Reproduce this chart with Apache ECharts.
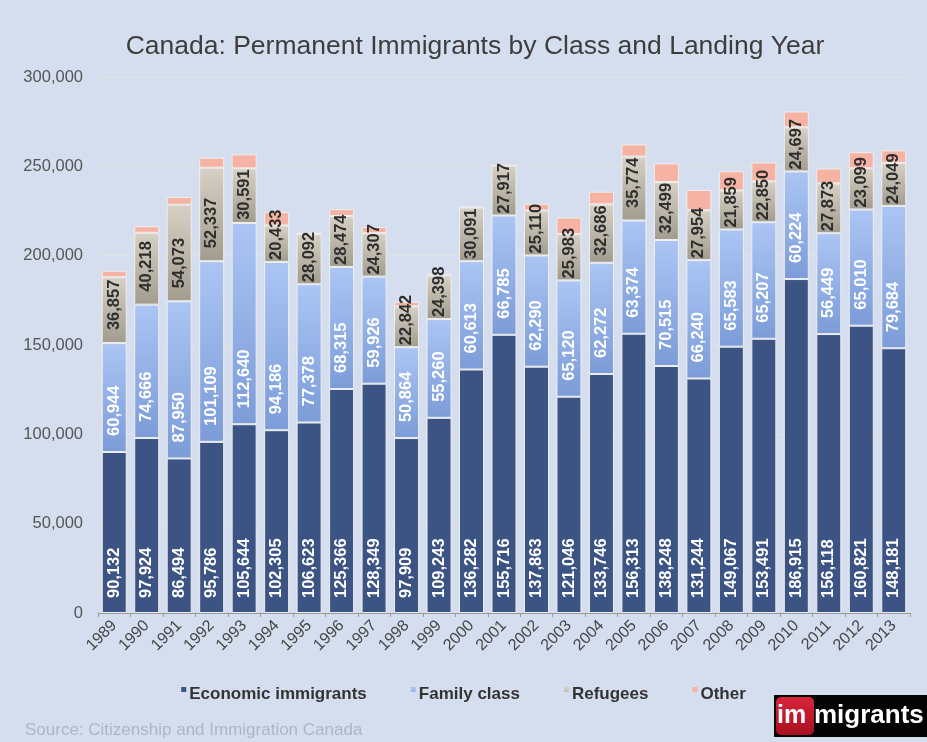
<!DOCTYPE html>
<html>
<head>
<meta charset="utf-8">
<script src="https://cdn.jsdelivr.net/npm/echarts@6/dist/echarts.min.js"></script>
<style>
  html, body { margin: 0; padding: 0; background: #d5deee; }
  #chart { width: 927px; height: 742px; }
</style>
</head>
<body>
<div id="chart"></div>
<script>
// Landing years
const years = ['1989','1990','1991','1992','1993','1994','1995','1996','1997','1998','1999','2000','2001',
  '2002','2003','2004','2005','2006','2007','2008','2009','2010','2011','2012','2013'];

// Permanent residents by class
const economic = [90132,97924,86494,95786,105644,102305,106623,125366,128349,97909,109243,136282,155716,
  137863,121046,133746,156313,138248,131244,149067,153491,186915,156118,160821,148181];
const family = [60944,74666,87950,101109,112640,94186,77378,68315,59926,50864,55260,60613,66785,
  62290,65120,62272,63374,70515,66240,65583,65207,60224,56449,65010,79684];
const refugees = [36857,40218,54073,52337,30591,20433,28092,28474,24307,22842,24398,30091,27917,
  25110,25983,32686,35774,32499,27954,21859,22850,24697,27873,23099,24049];
const other = [3623,3645,4286,5610,7828,7458,766,3914,3453,2580,1051,469,218,
  3785,9200,7119,6780,10378,11315,10737,10624,8853,8308,8957,7039];

// Value-axis tick labels
const yTicks = [0,50000,100000,150000,200000,250000,300000];

const fmt = v => Number(v).toLocaleString('en-US');

// Chart frame
const W = 927, H = 742;
const GRID = { left: 98, right: 17, top: 77, bottom: 129 };
const Y_MAX = 300000;
const pxPerUnit = (H - GRID.top - GRID.bottom) / Y_MAX;

const LABEL_FONT = 'bold 16.5px "Liberation Sans"';
const measureCtx = document.createElement('canvas').getContext('2d');
measureCtx.font = LABEL_FONT;
const textLen = s => measureCtx.measureText(s).width;

// Segment labels sit near the base of each segment; short segments pull them down towards the base.
function withBaseLabels(values, baseGap) {
  return values.map(v => {
    const segPx = v * pxPerUnit;
    const room = segPx - textLen(fmt(v)) - 1;
    const distance = Math.max(2, Math.min(baseGap, room));
    return { value: v, label: { distance: distance } };
  });
}

const grad = (top, bottom) => new echarts.graphic.LinearGradient(0, 0, 0, 1, [
  { offset: 0, color: top }, { offset: 1, color: bottom }
]);

const labelBase = {
  show: true,
  rotate: 90,
  position: 'insideBottom',
  align: 'left',
  verticalAlign: 'middle',
  fontFamily: 'Liberation Sans',
  fontWeight: 'bold',
  fontSize: 16.5,
  formatter: p => fmt(p.value)
};

const barBorder = { borderColor: '#eeeeee', borderWidth: 1 };

const chart = echarts.init(document.getElementById('chart'), null, { renderer: 'canvas' });

chart.setOption({
  backgroundColor: '#d5deee',
  animation: false,
  title: {
    text: 'Canada: Permanent Immigrants by Class and Landing Year',
    left: 470, top: 28, textAlign: 'center',
    textStyle: { fontFamily: 'Liberation Sans', fontWeight: 'normal', fontSize: 26.5, color: '#3d3d3d' }
  },
  grid: GRID,
  legend: {
    left: 'center', top: 681,
    itemWidth: 5, itemHeight: 15, itemGap: 44,
    icon: 'path://M0,0L4,0L4,4L0,4Z M0,12L0.001,12L0.001,12.001Z',
    itemStyle: { borderWidth: 0 },
    textStyle: { fontFamily: 'Liberation Sans', fontWeight: 'bold', fontSize: 17, color: '#333', padding: [0, 0, 0, -2] },
    data: ['Economic immigrants', 'Family class', 'Refugees', 'Other']
  },
  xAxis: {
    type: 'category',
    data: years,
    axisLine: { lineStyle: { color: '#999' } },
    axisTick: { show: true, length: 4, lineStyle: { color: '#999' } },
    axisLabel: {
      rotate: 45, interval: 0, margin: 10,
      fontFamily: 'Liberation Sans', fontSize: 16, color: '#444'
    }
  },
  yAxis: {
    type: 'value',
    min: 0, max: Y_MAX, interval: 50000,
    axisLine: { show: true, lineStyle: { color: '#dddddd' } },
    axisTick: { show: false },
    splitLine: { lineStyle: { color: '#e2e2e2' } },
    axisLabel: {
      margin: 15,
      fontFamily: 'Liberation Sans', fontSize: 16.5, color: '#555',
      formatter: v => yTicks.includes(v) ? fmt(v) : ''
    }
  },
  series: [
    {
      name: 'Economic immigrants', type: 'bar', stack: 'total', barWidth: '77%',
      data: economic,
      itemStyle: Object.assign({ color: '#3c5483' }, barBorder),
      label: Object.assign({}, labelBase, { distance: 15, color: '#ffffff' })
    },
    {
      name: 'Family class', type: 'bar', stack: 'total',
      data: withBaseLabels(family, 16),
      itemStyle: Object.assign({ color: grad('#abc5f4', '#7c9cd8') }, barBorder),
      label: Object.assign({}, labelBase, { color: '#ffffff' })
    },
    {
      name: 'Refugees', type: 'bar', stack: 'total',
      data: withBaseLabels(refugees, 13),
      itemStyle: Object.assign({ color: grad('#d7d1c5', '#a29c8f') }, barBorder),
      label: Object.assign({}, labelBase, { color: '#2e2e2e' })
    },
    {
      name: 'Other', type: 'bar', stack: 'total',
      data: other,
      itemStyle: Object.assign({ color: '#f6b2a2' }, barBorder),
      label: { show: false }
    }
  ],
  graphic: [
    {
      type: 'text', left: 25, top: 722,
      style: { text: 'Source: Citizenship and Immigration Canada', fontFamily: 'Liberation Sans', fontSize: 17, fill: '#aeb5c4' }
    },
    {
      type: 'group', left: 774, top: 695,
      children: [
        { type: 'rect', shape: { x: 0, y: 0, width: 153, height: 42 }, style: { fill: '#050505' } },
        { type: 'rect', shape: { x: 2, y: 2, width: 38, height: 38, r: 5 },
          style: { fill: new echarts.graphic.LinearGradient(0, 0, 0, 1, [{ offset: 0, color: '#d8243c' }, { offset: 1, color: '#a8101f' }]) } },
        { type: 'text', x: 3, y: 21,
          style: { text: 'im', fontFamily: 'Liberation Sans', fontWeight: 'bold', fontSize: 25, fill: '#ffffff', verticalAlign: 'middle' } },
        { type: 'text', x: 40, y: 21,
          style: { text: 'migrants', fontFamily: 'Liberation Sans', fontWeight: 'bold', fontSize: 26, fill: '#ffffff', verticalAlign: 'middle' } }
      ]
    }
  ]
});
</script>
</body>
</html>
